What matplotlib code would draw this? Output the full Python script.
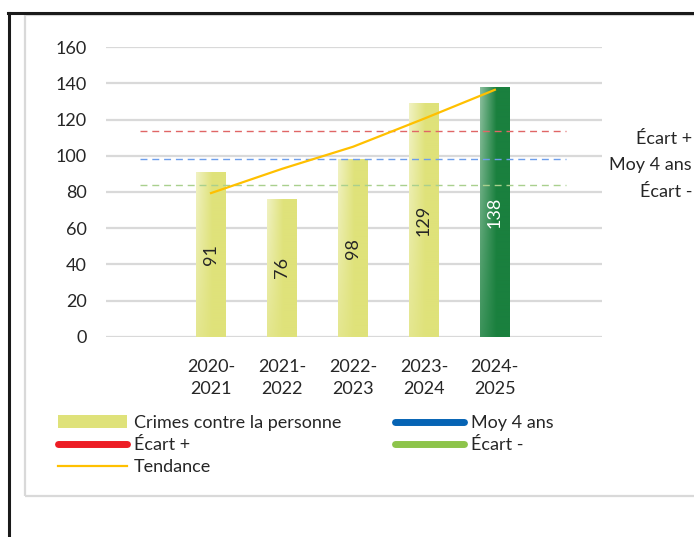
import numpy as np
import matplotlib
matplotlib.use("Agg")
from matplotlib import pyplot as plt
from matplotlib.lines import Line2D
from matplotlib.patches import Rectangle, Patch
from matplotlib.colors import to_rgb

plt.rcParams['font.family'] = ['Lato', 'DejaVu Sans']

# Data
seasons = ["2020-\n2021", "2021-\n2022", "2022-\n2023", "2023-\n2024", "2024-\n2025"]
crimes = [91, 76, 98, 129, 138]
trend = [79.4, 92.8, 105.0, 120.5, 136.5]
moy_4_ans = 98.5
ecart_plus = 114.0
ecart_moins = 84.0

yellow = "#dfe27a"
green = "#1a803e"
txt_col = "#262626"
fs = 13

fig = plt.figure(figsize=(6.94, 5.37), dpi=100)
ax = fig.add_axes([106 / 694, 1 - 336.7 / 537, 496 / 694, 289.4 / 537])

x = np.arange(len(seasons))
bar_colors = [yellow] * 4 + [green]
bars = ax.bar(x, crimes, width=0.41, color=bar_colors, zorder=2)


def gradient_overlay(rect, base, strength):
    # lighter on the left/top, like the spreadsheet fill
    nx, ny = 60, 120
    u = np.linspace(0, 1, nx)[None, :]
    v = np.linspace(1, 0, ny)[:, None]
    f = np.clip(1 - u / 0.55, 0, 1) * (0.3 + 0.7 * v) * strength
    b = np.array(to_rgb(base))
    img = b[None, None, :] * (1 - f[..., None]) + f[..., None]
    x0 = rect.get_x()
    im = ax.imshow(img, extent=[x0, x0 + rect.get_width(), 0, rect.get_height()],
                   aspect='auto', zorder=2.1, interpolation='bilinear')
    im.set_clip_path(rect)


for rect, col in zip(bars, bar_colors):
    gradient_overlay(rect, col, 0.55 if col == yellow else 0.5)

# value labels inside bars
for xi, val, col in zip(x, crimes, bar_colors):
    ax.text(xi, val / 2, str(val), rotation=90, ha='center', va='center',
            fontsize=fs, color='white' if col == green else txt_col, zorder=4)

# reference lines
ax.hlines(ecart_plus, -1, 5, colors="#e06666", linestyles=(0, (5, 3.5)), lw=1.0, zorder=3)
ax.hlines(moy_4_ans, -1, 5, colors="#6d9eeb", linestyles=(0, (5, 3.5)), lw=1.0, zorder=3)
ax.hlines(ecart_moins, -1, 5, colors="#a9d08e", linestyles=(0, (5, 3.5)), lw=1.0, zorder=3)

# trend line
ax.plot(x, trend, color="#ffc000", lw=1.6, zorder=5)

ax.set_xlim(-1.48, 5.51)
ax.set_ylim(0, 160)
ax.set_yticks(np.arange(0, 161, 20))
ax.set_xticks(x)
ax.set_xticklabels(seasons, linespacing=1.5)
ax.yaxis.grid(True, color="#d9d9d9", lw=1.6, zorder=0)
ax.set_axisbelow(True)
for s in ax.spines.values():
    s.set_visible(False)
ax.tick_params(axis='both', length=0, labelsize=fs, colors=txt_col)
ax.tick_params(axis='y', pad=14)
ax.tick_params(axis='x', pad=16)

# labels on the right
fig.text(692 / 694, 1 - 139 / 537, "Écart +", ha='right', va='center', fontsize=fs, color=txt_col)
fig.text(692 / 694, 1 - 165 / 537, "Moy 4 ans", ha='right', va='center', fontsize=fs, color=txt_col)
fig.text(692 / 694, 1 - 192 / 537, "Écart -", ha='right', va='center', fontsize=fs, color=txt_col)

# legend
handles = [
    Patch(facecolor=yellow, edgecolor='none'),
    Line2D([], [], color="#ed1c24", lw=5, solid_capstyle='round'),
    Line2D([], [], color="#ffc000", lw=1.6),
    Line2D([], [], color="#0563b4", lw=5, solid_capstyle='round'),
    Line2D([], [], color="#8dc44a", lw=5, solid_capstyle='round'),
]
labels = ["Crimes contre la personne", "Écart +", "Tendance", "Moy 4 ans", "Écart -"]
fig.legend(handles, labels, loc='upper left', bbox_to_anchor=(58 / 694, 1 - 415 / 537),
           ncol=2, frameon=False, fontsize=fs, handlelength=3.8, handleheight=0.7,
           handletextpad=0.4, columnspacing=3.0, labelspacing=0.33,
           borderpad=0, borderaxespad=0, labelcolor=txt_col)

# outer frames
fig.add_artist(Rectangle((25 / 694, 1 - 496 / 537), 700 / 694, (496 - 14.5) / 537,
                         transform=fig.transFigure, fill=False, ec="#d9d9d9", lw=1.6))
fig.add_artist(Line2D([8 / 694, 1], [1 - 12.5 / 537] * 2, transform=fig.transFigure,
                      color="#1a1a1a", lw=2.2))
fig.add_artist(Line2D([9 / 694] * 2, [0, 1 - 12.5 / 537], transform=fig.transFigure,
                      color="#1a1a1a", lw=2.2))

fig.savefig("out.png", dpi=100, facecolor='white')
